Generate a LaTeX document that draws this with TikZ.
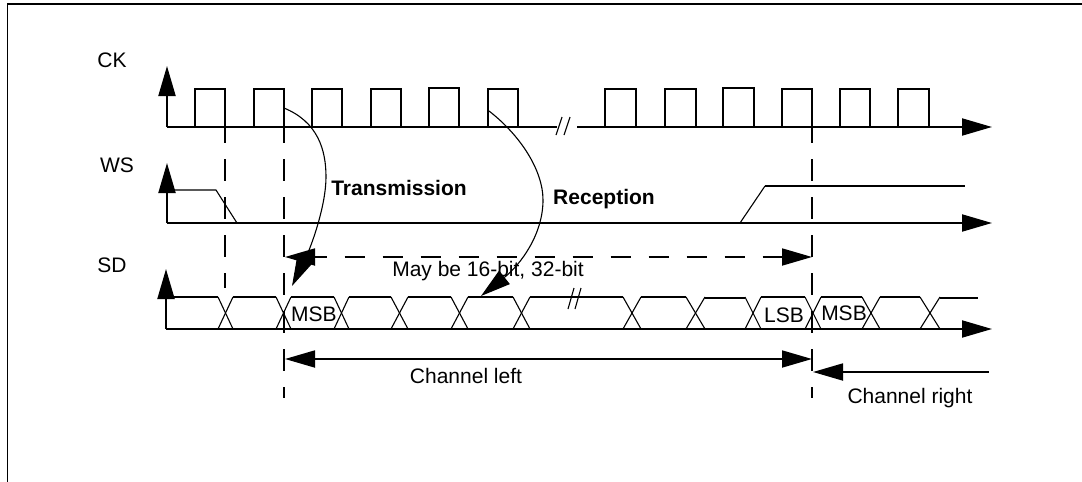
\documentclass[tikz,border=0pt]{standalone}
\usepackage{fontspec}
\setmainfont{Liberation Sans}
\usetikzlibrary{arrows.meta}

\tikzset{
  axis/.style={line width=2pt, -{Triangle[length=30pt,width=17pt]}},
  pulse/.style={line width=1.8pt},
  signal/.style={line width=1.1pt},
  marker/.style={line width=2pt, dash pattern=on 22pt off 16pt},
  span/.style={line width=1.8pt, {Triangle[length=30pt,width=17pt]}-{Triangle[length=30pt,width=17pt]}},
  label/.style={font=\fontsize{21}{24}\selectfont, inner sep=0pt},
  boldlabel/.style={font=\fontsize{21}{24}\bfseries\selectfont, inner sep=0pt},
}

\begin{document}
\begin{tikzpicture}[x=1pt, y=-1pt]
            \useasboundingbox (0,0) rectangle (1082,482);

            % frame, only two sides are seen
            \draw[line width=1.7pt] (7.5,482) -- (7.5,4) -- (1082,4);

            \node[label] (ck) at (112,60) {CK};
            \node[label] (ws) at (117,165) {WS};
            \node[label] (sd) at (112,265) {SD};

            % origins and ends of the axes
            \coordinate (ckorg) at (167,127);
            \coordinate (cktop) at (167,66);
            \coordinate (ckend) at (992,127);
            \coordinate (wsorg) at (167,223);
            \coordinate (wstop) at (167,163);
            \coordinate (wsend) at (992,223);
            \coordinate (sdorg) at (166,329);
            \coordinate (sdtop) at (166,269);
            \coordinate (sdend) at (992,329);
            \coordinate (ckcut) at (557,127);
            \coordinate (ckgo) at (577,127);

            \draw[line width=2pt] (ckorg) -- (ckcut);
            \draw[axis] (ckgo) -- (ckend);
            \draw[axis] (ckorg) -- (cktop);
            \draw[axis] (wsorg) -- (wsend);
            \draw[axis] (wsorg) -- (wstop);
            \draw[axis] (sdorg) -- (sdend);
            \draw[axis] (sdorg) -- (sdtop);

            % clock
            \foreach \a/\b/\t in {195/225/89, 254/284/89, 312/342/89, 371/401/89, 429/459/88, 488/518/89,
                                  605/636/89, 665/696/89, 723/754/88, 782/812/89, 840/870/89, 898/929/89}
                \draw[pulse] (\a,127) -- (\a,\t) -- (\b,\t) -- (\b,127);
            \draw[signal] (556,135) -- (562,117); \draw[signal] (564,135) -- (570,117);

            % word select
            \draw[signal] (167,190) -- (216,190) -- (237,223);
            \draw[signal] (740,223) -- (765,186);
            \draw[line width=1.6pt] (765,186) -- (965,186);

            % serial data
            \foreach \a/\b in {218/233, 276/291, 334/349, 391/408, 451/468, 513/530,
                               623/641, 686/705, 745/761, 805/821, 862/880, 920/940} {
                \draw[signal] (\a,297) -- (\b,329);
                \draw[signal] (\a,329) -- (\b,297);
            }
            \foreach \a/\b in {167/218, 233/276, 291/334, 349/391, 408/451, 468/513,
                               530/623, 641/686, 761/805, 821/862, 880/920}
                \draw[signal] (\a,297) -- (\b,297);
            \draw[pulse] (705,298) -- (745,298);
            \draw[pulse] (940,298) -- (978,298);
            \draw[signal] (568,309) -- (574,288); \draw[signal] (575,309) -- (581,288);

            \node[label] (msba) at (314,314) {MSB};
            \node[label] (lsb) at (784,315) {LSB};
            \node[label] (msbb) at (844,313) {MSB};

            % markers
            \coordinate (mka) at (225,127);
            \coordinate (mkaend) at (225,288);
            \coordinate (mkb) at (284,127);
            \coordinate (mkbend) at (284,398);
            \coordinate (mkc) at (812,127);
            \coordinate (mkcend) at (812,398);
            \draw[marker, dash phase=6pt] (mka) -- (mkaend);
            \draw[marker, dash phase=6pt] (mkb) -- (mkbend);
            \draw[marker, dash phase=6pt] (mkc) -- (mkcend);

            % word length
            \coordinate (wla) at (285,257);
            \coordinate (wlb) at (812,257);
            \draw[span, dash pattern=on 20pt off 18pt, dash phase=8pt] (wla) -- (wlb);
            \node[label] (word) at (488,271) {May be 16-bit, 32-bit};

            % transfer edges
            \coordinate (txa) at (284,108);
            \coordinate (txb) at (326,177);
            \coordinate (txc) at (292,286);
            \coordinate (rxa) at (489,111);
            \coordinate (rxb) at (543,200);
            \coordinate (rxc) at (481,296);
            \draw[line width=1.1pt, -{Triangle[length=30pt,width=17pt]}] (txa) .. controls (318,122) and (326,150) .. (txb)
                .. controls (326,205) and (312,245) .. (txc);
            \draw[line width=1.1pt, -{Triangle[length=30pt,width=17pt]}] (rxa) .. controls (520,135) and (543,170) .. (rxb)
                .. controls (543,235) and (520,265) .. (rxc);
            \node[boldlabel] (tx) at (399,188) {Transmission};
            \node[boldlabel] (rx) at (604,199) {Reception};

            % channels
            \coordinate (cla) at (285,359);
            \coordinate (clb) at (812,359);
            \coordinate (cra) at (813,372);
            \coordinate (crb) at (989,372);
            \draw[span] (cla) -- (clb);
            \draw[line width=1.8pt, {Triangle[length=30pt,width=17pt]}-] (cra) -- (crb);
            \node[label] (chl) at (466,376) {Channel left};
            \node[label] (chr) at (910,398) {Channel right};
        \end{tikzpicture}
\end{document}
